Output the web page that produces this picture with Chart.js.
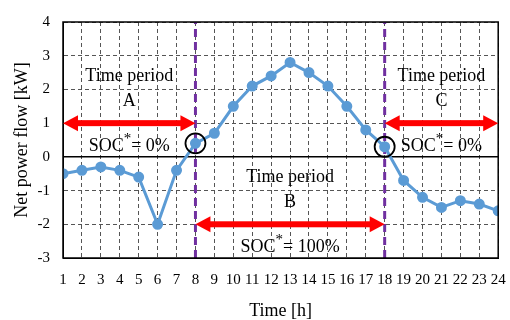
<!DOCTYPE html>
<html>
<head>
<meta charset="utf-8">
<script src="https://cdn.jsdelivr.net/npm/chart.js@4.4.1/dist/chart.umd.min.js"></script>
<style>
  html, body { margin: 0; padding: 0; background: #fff; }
  #wrap { width: 510px; height: 320px; }
</style>
</head>
<body>
<div id="wrap"><canvas id="chart"></canvas></div>
<script>
// Hourly net power flow [kW]
const hours = [1, 2, 3, 4, 5, 6, 7, 8, 9, 10, 11, 12, 13, 14, 15, 16, 17, 18, 19, 20, 21, 22, 23, 24];
const netPower = [-0.5, -0.4, -0.3, -0.4, -0.6, -2.0, -0.4, 0.4, 0.7, 1.5, 2.1, 2.4,
                  2.8, 2.5, 2.1, 1.5, 0.8, 0.3, -0.7, -1.2, -1.5, -1.3, -1.4, -1.6];

// Period boundaries (dashed purple lines) and the circled crossing points
const boundaryHours = [8, 18];
const boundaryPower = [0.4, 0.3];

// Time periods
const periodNames = ['A', 'B', 'C'];
const periodStart = [1, 8, 18];
const periodEnd = [8, 18, 24];
const arrowLevel = [1, -2, 1];
const socValues = ['0%', '100%', '0%'];

const yMin = -3, yMax = 4;
const SERIF = '"Liberation Serif", "DejaVu Serif", serif';

Chart.defaults.font.family = SERIF;
Chart.defaults.color = '#000';

/**
 * Frame, zero line, period arrows and labels
 */
const annotationPlugin = {
    id: 'annotations',
    beforeDatasetsDraw(chart) {
        const ctx = chart.ctx;
        const y = chart.scales.y;
        const area = chart.chartArea;
        ctx.save();
        ctx.setLineDash([]);
        ctx.strokeStyle = '#000';
        ctx.lineWidth = 1.5;
        ctx.beginPath();
        ctx.moveTo(area.left, y.getPixelForValue(0));
        ctx.lineTo(area.right, y.getPixelForValue(0));
        ctx.stroke();
        ctx.restore();
    },
    afterDatasetsDraw(chart) {
        const ctx = chart.ctx;
        const x = chart.scales.x;
        const y = chart.scales.y;
        const area = chart.chartArea;

        ctx.save();
        ctx.setLineDash([]);
        ctx.strokeStyle = '#000';
        ctx.lineWidth = 1.5;
        ctx.strokeRect(area.left, area.top, area.right - area.left, area.bottom - area.top);

        periodNames.forEach((name, i) => {
            const x1 = x.getPixelForValue(periodStart[i]);
            const x2 = x.getPixelForValue(periodEnd[i]);
            const ay = y.getPixelForValue(arrowLevel[i]);
            drawArrow(ctx, x1, x2, ay);

            const cx = (x1 + x2) / 2;
            ctx.fillStyle = '#000';
            ctx.textAlign = 'center';
            ctx.textBaseline = 'middle';
            ctx.font = '18px ' + SERIF;
            ctx.fillText('Time period', cx, ay - 47);
            ctx.fillText(name, cx, ay - 22);
            drawSoc(ctx, cx, ay + 23, socValues[i]);
        });
        ctx.restore();
    }
};

function drawArrow(ctx, x1, x2, yPix) {
    const head = 15, half = 8, thick = 6;
    ctx.fillStyle = '#FF0000';
    ctx.fillRect(x1 + head - 1, yPix - thick / 2, x2 - x1 - 2 * head + 2, thick);
    ctx.beginPath();
    ctx.moveTo(x1, yPix);
    ctx.lineTo(x1 + head, yPix - half);
    ctx.lineTo(x1 + head, yPix + half);
    ctx.closePath();
    ctx.fill();
    ctx.beginPath();
    ctx.moveTo(x2, yPix);
    ctx.lineTo(x2 - head, yPix - half);
    ctx.lineTo(x2 - head, yPix + half);
    ctx.closePath();
    ctx.fill();
}

function drawSoc(ctx, cx, cy, value) {
    const big = '18px ' + SERIF, small = '15px ' + SERIF;
    const rest = '= ' + value;
    ctx.font = big;
    const w1 = ctx.measureText('SOC').width;
    const w3 = ctx.measureText(rest).width;
    ctx.font = small;
    const w2 = ctx.measureText('*').width;
    let left = cx - (w1 + w2 + w3) / 2;
    ctx.textAlign = 'left';
    ctx.fillStyle = '#000';
    ctx.font = big;
    ctx.fillText('SOC', left, cy);
    ctx.font = small;
    ctx.fillText('*', left + w1, cy - 7);
    ctx.font = big;
    ctx.fillText(rest, left + w1 + w2, cy);
}

const datasets = [
    {
        label: 'Net power flow',
        data: hours.map((h, i) => ({ x: h, y: netPower[i] })),
        borderColor: '#5B9BD5',
        backgroundColor: '#5B9BD5',
        borderWidth: 3,
        pointRadius: 4,
        pointHoverRadius: 4,
        tension: 0,
        order: 2
    },
    {
        label: 'Crossing',
        data: boundaryHours.map((h, i) => ({ x: h, y: boundaryPower[i] })),
        showLine: false,
        pointRadius: 10,
        pointBorderWidth: 1.8,
        borderColor: '#000',
        backgroundColor: 'rgba(0,0,0,0)',
        order: 1
    }
];

boundaryHours.forEach((h) => {
    datasets.push({
        label: 'Boundary ' + h,
        data: [{ x: h, y: yMin }, { x: h, y: yMax }],
        borderColor: '#7030A0',
        borderWidth: 3,
        borderDash: [8, 5],
        pointRadius: 0,
        order: 3
    });
});

const gridOpts = { color: '#555', lineWidth: 1, drawTicks: false, borderDash: [4, 3] };
const borderOpts = { display: true, color: '#000', width: 1, dash: [4, 3] };

new Chart(document.getElementById('chart'), {
    type: 'line',
    data: { datasets: datasets },
    plugins: [annotationPlugin],
    options: {
        responsive: true,
        maintainAspectRatio: false,
        animation: false,
        events: [],
        layout: { padding: { top: 20, right: 5, bottom: 0, left: 0 } },
        plugins: {
            legend: { display: false },
            tooltip: { enabled: false }
        },
        scales: {
            x: {
                type: 'linear',
                min: 1,
                max: 24,
                afterFit(scale) {
                    scale.height = 62;
                    scale.paddingLeft = 0;
                    scale.paddingRight = 0;
                },
                ticks: {
                    stepSize: 1,
                    autoSkip: false,
                    maxRotation: 0,
                    padding: 13,
                    font: { size: 15 }
                },
                grid: gridOpts,
                border: borderOpts,
                title: {
                    display: true,
                    text: 'Time [h]',
                    font: { size: 18, lineHeight: 1 },
                    padding: { top: 0, bottom: 0 }
                }
            },
            y: {
                min: yMin,
                max: yMax,
                afterFit(scale) { scale.width = 63; },
                ticks: {
                    stepSize: 1,
                    padding: 13,
                    font: { size: 15 }
                },
                grid: gridOpts,
                border: borderOpts,
                title: {
                    display: true,
                    text: 'Net power flow [kW]',
                    font: { size: 18, lineHeight: 1 },
                    padding: { top: 13, bottom: 0 }
                }
            }
        }
    }
});
</script>
</body>
</html>
